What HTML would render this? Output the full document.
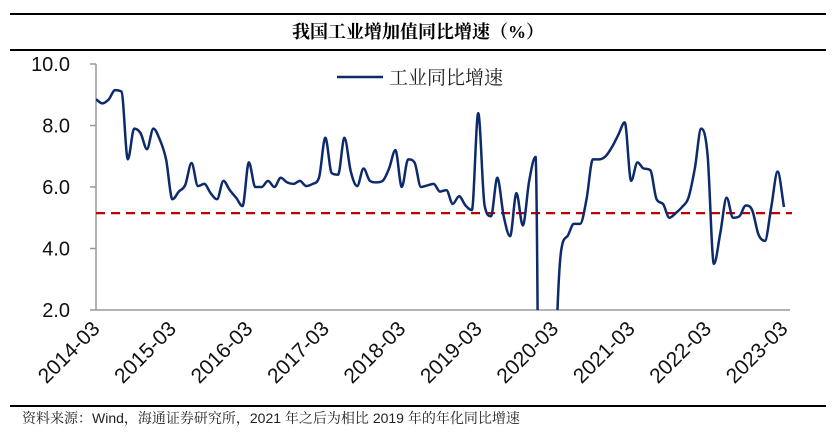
<!DOCTYPE html>
<html><head><meta charset="utf-8">
<style>
html,body{margin:0;padding:0;background:#fff;overflow:hidden;}
svg{display:block;}
</style></head>
<body>
<svg width="836" height="438" viewBox="0 0 836 438" xmlns="http://www.w3.org/2000/svg">
<line x1="10" y1="14" x2="826" y2="14" stroke="#000" stroke-width="2"/>
<text x="418" y="38" text-anchor="middle" font-family="'Liberation Serif','Noto Serif CJK SC',serif" font-weight="bold" font-size="18">我国工业增加值同比增速（%）</text>
<line x1="10" y1="50" x2="826" y2="50" stroke="#000" stroke-width="2"/>
<defs><clipPath id="plotclip"><rect x="96" y="55" width="700" height="255"/></clipPath></defs>
<g id="axes"></g>
<g id="series" clip-path="url(#plotclip)"></g>
<g>
<line x1="337" y1="77" x2="383" y2="77" stroke="#0d2a6b" stroke-width="2.5"/>
<text x="389" y="84" font-family="'Liberation Serif','Noto Serif CJK SC',serif" font-size="19" fill="#222">工业同比增速</text>
</g>
<line x1="10" y1="406" x2="826" y2="406" stroke="#000" stroke-width="2"/>
<text x="22" y="423" font-family="'Liberation Sans','Noto Serif CJK SC',sans-serif" font-size="14" fill="#222">资料来源：Wind，海通证券研究所，2021 年之后为相比 2019 年的年化同比增速</text>
</svg>
<script>
const values = [8.85,8.72,8.85,9.15,9.1,6.9,7.9,7.75,7.23,7.9,7.55,6.9,5.6,5.85,6.06,6.78,6.03,6.1,5.8,5.6,6.2,5.9,5.65,5.38,6.8,6.0,6.0,6.2,6.0,6.3,6.15,6.1,6.2,6.03,6.1,6.3,7.6,6.45,6.4,7.6,6.5,6.03,6.6,6.2,6.15,6.2,6.6,7.2,6.0,6.9,6.8,6.0,6.05,6.1,5.85,5.9,5.45,5.7,5.4,5.25,8.4,5.4,5.05,6.3,5.05,4.4,5.8,4.75,6.2,6.98,-13.5,-13.5,-1.1,3.9,4.4,4.8,4.8,5.6,6.9,6.9,7.0,7.3,7.7,8.1,6.2,6.8,6.6,6.55,5.6,5.45,5.0,5.15,5.35,5.65,6.6,7.9,7.05,3.5,4.5,5.65,5.0,5.05,5.4,5.25,4.45,4.25,5.35,6.5,5.35];
const xLabels = ["2014-03","2015-03","2016-03","2017-03","2018-03","2019-03","2020-03","2021-03","2022-03","2023-03"];
const yTicks = [2,4,6,8,10];
const refValue = 5.15;
const NS="http://www.w3.org/2000/svg";
const X0=96,X1=784,Y0=310,Y1=64,YMIN=2,YMAX=10;
function xs(i){return X0+(X1-X0)*i/(values.length-1);}
function ys(v){return Y0-(v-YMIN)/(YMAX-YMIN)*(Y0-Y1);}
function mk(t,a,p){const e=document.createElementNS(NS,t);for(const k in a)e.setAttribute(k,a[k]);p.appendChild(e);return e;}
const axes=document.getElementById('axes');
const ya=mk('line',{x1:X0,y1:Y1,x2:X0,y2:Y0,stroke:'#999','stroke-width':1.5},axes);


const xa=mk('line',{x1:X0,y1:Y0,x2:790,y2:Y0,stroke:'#999','stroke-width':1.5},axes);


yTicks.forEach(v=>{
  const y=ys(v);
  const tk=mk('line',{x1:X0-6,y1:y,x2:X0,y2:y,stroke:'#999','stroke-width':1.5},axes);
  
  
  const t=mk('text',{x:70,y:y+7,'text-anchor':'end','font-family':'Liberation Sans, sans-serif','font-size':20,fill:'#111'},axes);
  
  
  t.textContent=v.toFixed(1);
});
xLabels.forEach((lab,k)=>{
  const x=xs(k*12);
  const t=mk('text',{x:x+5,y:Y0+20,'text-anchor':'end','font-family':'Liberation Sans, sans-serif','font-size':21,fill:'#111',transform:`rotate(-45 ${x+5} ${Y0+20})`},axes);
  
  
  t.textContent=lab;
});
const ref=mk('line',{x1:X0,y1:ys(refValue),x2:792,y2:ys(refValue),stroke:'#c00000','stroke-width':2.2,'stroke-dasharray':'9 6'},axes);


// monotone cubic (Fritsch-Carlson) to avoid overshoot
const pts=values.map((v,i)=>[xs(i),ys(v)]);
const n=pts.length,h=pts[1][0]-pts[0][0];
const dl=[];for(let i=0;i<n-1;i++)dl.push((pts[i+1][1]-pts[i][1])/h);
const m=new Array(n);
m[0]=dl[0];m[n-1]=dl[n-2];
for(let i=1;i<n-1;i++){m[i]=(dl[i-1]*dl[i]<=0)?0:(dl[i-1]+dl[i])/2;}
for(let i=0;i<n-1;i++){
  if(dl[i]===0){m[i]=0;m[i+1]=0;continue;}
  const a=m[i]/dl[i],b=m[i+1]/dl[i],s=a*a+b*b;
  if(s>9){const t=3/Math.sqrt(s);m[i]=t*a*dl[i];m[i+1]=t*b*dl[i];}
}
let d=`M${pts[0][0]},${pts[0][1]}`;
for(let i=0;i<n-1;i++){
  const p1=pts[i],p2=pts[i+1];
  d+=` C${p1[0]+h/3},${p1[1]+m[i]*h/3} ${p2[0]-h/3},${p2[1]-m[i+1]*h/3} ${p2[0]},${p2[1]}`;
}
const line=mk('path',{d:d,fill:'none',stroke:'#0d2a6b','stroke-width':2.5,'stroke-linejoin':'round'},document.getElementById('series'));


</script>
</body></html>
